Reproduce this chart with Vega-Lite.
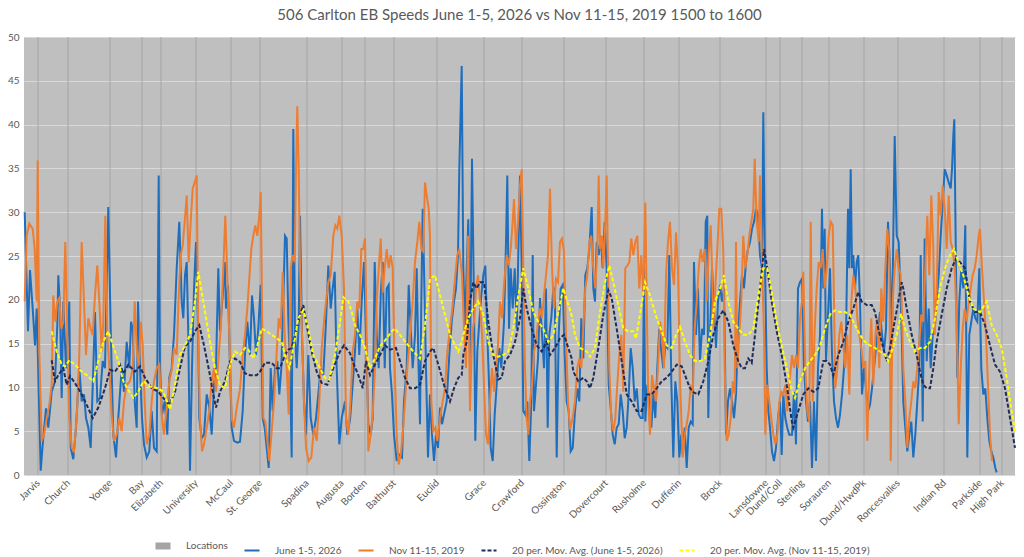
{
  "$schema": "https://vega.github.io/schema/vega-lite/v6.json",
  "width": 991,
  "height": 438,
  "autosize": {"type": "none"},
  "padding": {"left": 24, "top": 37, "right": 9, "bottom": 82},
  "title": {"text": "506 Carlton EB Speeds June 1-5, 2026 vs Nov 11-15, 2019 1500 to 1600", "fontSize": 15, "fontWeight": "normal", "color": "#595959", "font": "Lato", "offset": 9, "anchor": "middle", "frame": "group"},
  "config": {"view": {"fill": "#BFBFBF", "stroke": null}, "font": "Lato"},
  "datasets": {
    "loc": [
      {"loc": "Jarvis", "i": 14, "v": 50}, {"loc": "Church", "i": 44, "v": 50}, {"loc": "Yonge", "i": 86, "v": 50}, {"loc": "Bay", "i": 118, "v": 50}, {"loc": "Elizabeth", "i": 137, "v": 50}, {"loc": "University", "i": 172, "v": 50}, {"loc": "McCaul", "i": 207, "v": 50}, {"loc": "St. George", "i": 236, "v": 50}, {"loc": "Spadina", "i": 283, "v": 50}, {"loc": "Augusta", "i": 318, "v": 50}, {"loc": "Borden", "i": 341, "v": 50}, {"loc": "Bathurst", "i": 370, "v": 50}, {"loc": "Euclid", "i": 413, "v": 50}, {"loc": "Grace", "i": 460, "v": 50}, {"loc": "Crawford", "i": 498, "v": 50}, {"loc": "Ossington", "i": 540, "v": 50}, {"loc": "Dovercourt", "i": 582, "v": 50}, {"loc": "Rusholme", "i": 620, "v": 50}, {"loc": "Dufferin", "i": 655, "v": 50}, {"loc": "Brock", "i": 696, "v": 50}, {"loc": "Lansdowne", "i": 742, "v": 50}, {"loc": "Dund/Coll", "i": 756, "v": 50}, {"loc": "Sterling", "i": 778, "v": 50}, {"loc": "Sorauren", "i": 805, "v": 50}, {"loc": "Dund/HwdPk", "i": 840, "v": 50}, {"loc": "Roncesvalles", "i": 874, "v": 50}, {"loc": "Indian Rd", "i": 920, "v": 50}, {"loc": "Parkside", "i": 956, "v": 50}, {"loc": "High Park", "i": 978, "v": 50}
    ],
    "jun": [
      {"i":0.7,"v":30},{"i":4,"v":16.4},{"i":6,"v":23.4},{"i":8.7,"v":19},{"i":11,"v":14.8},{"i":12.7,"v":19},{"i":16.7,"v":0.5},{"i":18.7,"v":3.5},{"i":22,"v":7.6},{"i":24.3,"v":5.4},{"i":27.7,"v":9.5},{"i":31,"v":10.7},{"i":33.3,"v":17.1},{"i":34.3,"v":22.8},{"i":36,"v":19},{"i":37.7,"v":8.8},{"i":39.3,"v":19.8},{"i":42,"v":12.2},{"i":45.3,"v":19.8},{"i":46.7,"v":3.1},{"i":49.3,"v":1.8},{"i":52,"v":5.4},{"i":55.3,"v":12.2},{"i":57.7,"v":8.4},{"i":60,"v":9.2},{"i":62,"v":6.5},{"i":64.3,"v":5.4},{"i":66.7,"v":3.1},{"i":69.3,"v":12.2},{"i":71,"v":18.6},{"i":73.3,"v":8.4},{"i":76,"v":8.8},{"i":78.7,"v":13},{"i":81,"v":12.2},{"i":84.3,"v":30.6},{"i":86.7,"v":16.7},{"i":89.3,"v":4.6},{"i":92,"v":2},{"i":94.3,"v":6.5},{"i":97.7,"v":12.2},{"i":100,"v":9.5},{"i":102.7,"v":15.2},{"i":105.3,"v":12.2},{"i":107,"v":17.5},{"i":108.7,"v":16.7},{"i":110.7,"v":8.4},{"i":112.7,"v":5.4},{"i":114,"v":19.8},{"i":116,"v":12.2},{"i":118,"v":6.5},{"i":120,"v":3.5},{"i":122.7,"v":2},{"i":125.3,"v":2.7},{"i":127.7,"v":7.3},{"i":130,"v":3.1},{"i":132.7,"v":2.7},{"i":134.7,"v":34.2},{"i":136,"v":12.2},{"i":138,"v":6.9},{"i":140.7,"v":8.4},{"i":143.3,"v":4.6},{"i":145.3,"v":11.1},{"i":147.7,"v":12.2},{"i":150,"v":16},{"i":152.7,"v":23.6},{"i":155.3,"v":28.9},{"i":157.7,"v":19.8},{"i":159.3,"v":17.9},{"i":161,"v":22.8},{"i":162.7,"v":24.3},{"i":164.3,"v":16},{"i":166,"v":0.5},{"i":168,"v":12.2},{"i":170,"v":21.3},{"i":172,"v":26.6},{"i":174,"v":17.1},{"i":175.3,"v":6.5},{"i":177.7,"v":4.2},{"i":180,"v":4.6},{"i":182.7,"v":9.2},{"i":185.3,"v":7.7},{"i":187.7,"v":4.6},{"i":190,"v":10.3},{"i":192,"v":12.2},{"i":194.3,"v":23.6},{"i":196,"v":16.4},{"i":198.7,"v":20.5},{"i":200.7,"v":24.3},{"i":202,"v":19},{"i":204,"v":21.7},{"i":206,"v":12.2},{"i":207.7,"v":5.4},{"i":210,"v":3.9},{"i":213.3,"v":3.7},{"i":216,"v":3.8},{"i":218.7,"v":7.3},{"i":221,"v":13.7},{"i":223.3,"v":17.5},{"i":226,"v":13.7},{"i":228,"v":20.5},{"i":230,"v":17.9},{"i":232,"v":13.7},{"i":234.3,"v":16.7},{"i":236.7,"v":21.7},{"i":238.7,"v":6.5},{"i":240.7,"v":5.4},{"i":242.7,"v":3.1},{"i":244.7,"v":0.8},{"i":246.7,"v":12.2},{"i":248.7,"v":7.3},{"i":251,"v":12.2},{"i":253.3,"v":13},{"i":255.3,"v":9.2},{"i":257.3,"v":12.2},{"i":259.3,"v":19.8},{"i":261,"v":27.3},{"i":262.7,"v":27},{"i":264.3,"v":17.9},{"i":266,"v":12.2},{"i":267.7,"v":2},{"i":269.3,"v":39.5},{"i":271,"v":16},{"i":272.7,"v":12.2},{"i":274.7,"v":17.1},{"i":276,"v":29.6},{"i":278,"v":16},{"i":280,"v":8.4},{"i":282,"v":4.6},{"i":284.3,"v":13.7},{"i":286.7,"v":6.5},{"i":289.3,"v":4.6},{"i":292,"v":6.5},{"i":294.3,"v":9.2},{"i":296.7,"v":12.2},{"i":299.3,"v":11.4},{"i":302,"v":17.5},{"i":304.3,"v":23.9},{"i":306.7,"v":19},{"i":308.7,"v":21.3},{"i":310.7,"v":23.2},{"i":312.7,"v":12.2},{"i":315.3,"v":3.5},{"i":317.7,"v":6.5},{"i":321,"v":8.4},{"i":323.3,"v":4.6},{"i":326,"v":6.3},{"i":328.7,"v":10.3},{"i":331,"v":14.1},{"i":333.3,"v":19},{"i":335.3,"v":13.7},{"i":337.7,"v":19.8},{"i":340,"v":24.3},{"i":342,"v":16},{"i":344.3,"v":5.8},{"i":346.7,"v":4.6},{"i":348.7,"v":6.5},{"i":350.7,"v":24.3},{"i":352.7,"v":16},{"i":354.7,"v":12.2},{"i":356.7,"v":20.5},{"i":358.7,"v":24.3},{"i":360.7,"v":12.2},{"i":362.7,"v":21.3},{"i":364.7,"v":21.7},{"i":366,"v":12.2},{"i":368,"v":9.2},{"i":370,"v":4.6},{"i":372.7,"v":1.6},{"i":375.3,"v":2.3},{"i":378,"v":2},{"i":380,"v":8.4},{"i":382.7,"v":12.2},{"i":384.7,"v":21.7},{"i":386.7,"v":16.7},{"i":388.7,"v":12.2},{"i":391,"v":16},{"i":392.7,"v":23.6},{"i":394.3,"v":13.7},{"i":396,"v":5.8},{"i":397.3,"v":19.8},{"i":398.7,"v":30.4},{"i":400,"v":23.6},{"i":402,"v":12.2},{"i":404,"v":2},{"i":406,"v":9.2},{"i":408,"v":4.6},{"i":410,"v":1.6},{"i":412,"v":4.6},{"i":414,"v":3.1},{"i":416,"v":7.7},{"i":418,"v":5.8},{"i":420,"v":6.9},{"i":422.7,"v":8.4},{"i":425.3,"v":13.7},{"i":427.7,"v":17.5},{"i":430,"v":19.8},{"i":432,"v":21.3},{"i":434,"v":25.1},{"i":435.3,"v":34.9},{"i":437.7,"v":46.7},{"i":439.3,"v":23.6},{"i":441,"v":16.7},{"i":442.7,"v":23.6},{"i":444.3,"v":29.2},{"i":446,"v":12.2},{"i":448,"v":36.1},{"i":450,"v":19.8},{"i":451.3,"v":3.9},{"i":453.3,"v":14.1},{"i":455.3,"v":17.5},{"i":457.3,"v":20.5},{"i":459.3,"v":22.8},{"i":461.3,"v":23.9},{"i":463.3,"v":16},{"i":465.3,"v":9.5},{"i":466.7,"v":3.1},{"i":468.7,"v":1.6},{"i":470.7,"v":6.9},{"i":472.7,"v":10.3},{"i":475.3,"v":14.5},{"i":477.3,"v":12.2},{"i":480,"v":17.5},{"i":482,"v":26.6},{"i":483.3,"v":34.2},{"i":485,"v":16.7},{"i":486.7,"v":23.6},{"i":488.7,"v":19},{"i":490.7,"v":23.6},{"i":492.7,"v":16.7},{"i":494.7,"v":27.3},{"i":496,"v":34.2},{"i":497.7,"v":23.6},{"i":499.3,"v":7.3},{"i":501.3,"v":6.9},{"i":503.3,"v":8.4},{"i":505.3,"v":1.6},{"i":507.3,"v":8.4},{"i":508.7,"v":25.1},{"i":510,"v":7.3},{"i":512,"v":10.3},{"i":514,"v":13.3},{"i":516,"v":20.2},{"i":518,"v":16},{"i":520,"v":12.2},{"i":522,"v":21.3},{"i":523.7,"v":5.4},{"i":525.3,"v":16},{"i":527.3,"v":17.9},{"i":529.3,"v":21.3},{"i":530.7,"v":21.3},{"i":532.7,"v":2},{"i":534.7,"v":16},{"i":536.7,"v":21.3},{"i":538.7,"v":21.7},{"i":540.7,"v":13.7},{"i":542.7,"v":8.4},{"i":544.7,"v":7.3},{"i":546.7,"v":2.7},{"i":548.7,"v":3.1},{"i":551,"v":7.3},{"i":553.3,"v":9.9},{"i":555.3,"v":8.4},{"i":557.3,"v":17.9},{"i":559.3,"v":13.3},{"i":561.3,"v":22.8},{"i":563.3,"v":23.6},{"i":565.3,"v":25.8},{"i":567.7,"v":30.6},{"i":569.3,"v":21.3},{"i":571,"v":19.8},{"i":572.7,"v":26.6},{"i":574.7,"v":25.1},{"i":576.7,"v":27.3},{"i":578.7,"v":23.6},{"i":580.7,"v":28.9},{"i":582.7,"v":23.6},{"i":584.7,"v":10.3},{"i":586.7,"v":7.7},{"i":588.7,"v":4.6},{"i":590.7,"v":3.5},{"i":592.7,"v":5.4},{"i":594.7,"v":5.8},{"i":596.7,"v":9.2},{"i":598.7,"v":7.3},{"i":600.7,"v":4.2},{"i":602.7,"v":5.4},{"i":604.7,"v":9.2},{"i":606.7,"v":14.5},{"i":608.7,"v":12.2},{"i":610.7,"v":8.4},{"i":612.7,"v":9.9},{"i":614.7,"v":6.9},{"i":616.7,"v":6.5},{"i":618.7,"v":6.5},{"i":620,"v":23.6},{"i":621.3,"v":6.1},{"i":623.3,"v":10.3},{"i":625.3,"v":8.4},{"i":627.3,"v":5.4},{"i":629.3,"v":9.2},{"i":631.3,"v":6.5},{"i":633.3,"v":12.2},{"i":635.3,"v":16.7},{"i":637.3,"v":14.1},{"i":639.3,"v":12.2},{"i":641.3,"v":14.8},{"i":643.3,"v":14.5},{"i":645.3,"v":25.1},{"i":647.3,"v":10.7},{"i":649.3,"v":2},{"i":651.3,"v":10.7},{"i":653.3,"v":8.4},{"i":655.3,"v":2},{"i":657.3,"v":4.6},{"i":658.7,"v":2.3},{"i":660.7,"v":5.4},{"i":662.7,"v":0.8},{"i":664.7,"v":5.4},{"i":666.7,"v":6.1},{"i":668.7,"v":5.8},{"i":670,"v":24.3},{"i":672,"v":16},{"i":674,"v":21.3},{"i":676,"v":13},{"i":678,"v":16.7},{"i":680,"v":16},{"i":681.7,"v":28.9},{"i":683.3,"v":29.6},{"i":684.3,"v":6.5},{"i":686,"v":16},{"i":688,"v":23.6},{"i":690,"v":19},{"i":692,"v":14.5},{"i":694,"v":19.8},{"i":696,"v":21.7},{"i":698,"v":19.8},{"i":700,"v":21.3},{"i":702,"v":4.6},{"i":704,"v":8.4},{"i":706,"v":9.9},{"i":708,"v":8.4},{"i":710,"v":6.5},{"i":712,"v":9.2},{"i":714,"v":16},{"i":716,"v":19.8},{"i":718,"v":22.8},{"i":720,"v":21.3},{"i":722,"v":24.3},{"i":724,"v":25.8},{"i":726,"v":26.6},{"i":728,"v":28.1},{"i":730,"v":28.9},{"i":732,"v":30.4},{"i":734,"v":29.6},{"i":736,"v":25.1},{"i":738,"v":23.6},{"i":739.3,"v":41.4},{"i":741,"v":23.6},{"i":742.7,"v":12.2},{"i":744.3,"v":7.3},{"i":746,"v":5.4},{"i":748,"v":2.7},{"i":750,"v":1.6},{"i":752,"v":3.1},{"i":754,"v":6.5},{"i":756,"v":8.4},{"i":757.7,"v":2.3},{"i":759.3,"v":9.2},{"i":761.3,"v":6.5},{"i":763.3,"v":5.4},{"i":765.3,"v":4.6},{"i":768,"v":4.6},{"i":770,"v":9.5},{"i":772,"v":3.5},{"i":774,"v":21.3},{"i":776,"v":22},{"i":778,"v":22.4},{"i":780,"v":12.2},{"i":782,"v":8.4},{"i":784,"v":6.1},{"i":786,"v":8.4},{"i":788,"v":0.8},{"i":790,"v":8.4},{"i":792,"v":1.6},{"i":794,"v":12.2},{"i":796,"v":16},{"i":798,"v":30.4},{"i":799.3,"v":21.3},{"i":800.7,"v":28.1},{"i":802,"v":13},{"i":804,"v":18.3},{"i":806,"v":23.6},{"i":808,"v":13.7},{"i":810,"v":8.4},{"i":812,"v":6.5},{"i":814,"v":5.4},{"i":816,"v":6.9},{"i":818,"v":9.2},{"i":820,"v":12.2},{"i":822,"v":16},{"i":824,"v":30.4},{"i":825.3,"v":23.6},{"i":826.7,"v":34.9},{"i":828,"v":23.6},{"i":829.3,"v":25.1},{"i":831,"v":21.3},{"i":832.7,"v":24.3},{"i":834.3,"v":25.1},{"i":836,"v":19.8},{"i":838,"v":9.2},{"i":840,"v":12.2},{"i":842,"v":9.9},{"i":844,"v":7.3},{"i":846,"v":8},{"i":848,"v":9.9},{"i":850,"v":12.2},{"i":852,"v":14.5},{"i":854,"v":16.7},{"i":856,"v":18.6},{"i":858,"v":16},{"i":860,"v":14.1},{"i":862,"v":16.7},{"i":864,"v":28.9},{"i":866,"v":23.6},{"i":868,"v":16},{"i":869.3,"v":27.3},{"i":870.7,"v":38.7},{"i":872.7,"v":27.3},{"i":874.7,"v":26.6},{"i":876.7,"v":20},{"i":877.7,"v":16},{"i":879.3,"v":8.4},{"i":881.3,"v":5.4},{"i":883.3,"v":2.7},{"i":885.3,"v":4.6},{"i":887.3,"v":6.1},{"i":889.3,"v":2},{"i":891.3,"v":4.6},{"i":893.3,"v":8.4},{"i":895.3,"v":12.2},{"i":896.7,"v":25.1},{"i":898.7,"v":6.1},{"i":900.7,"v":27},{"i":902.7,"v":13},{"i":904.7,"v":19},{"i":906.7,"v":12.2},{"i":908.7,"v":16},{"i":910.7,"v":16.7},{"i":912.7,"v":19.8},{"i":914.7,"v":22.8},{"i":916.7,"v":27.3},{"i":918.7,"v":31.1},{"i":920.7,"v":34.9},{"i":922.7,"v":34.2},{"i":924.7,"v":33.4},{"i":926.7,"v":32.7},{"i":928,"v":34.9},{"i":929.3,"v":38.7},{"i":930.3,"v":40.6},{"i":932,"v":23.6},{"i":933.3,"v":11.1},{"i":935.3,"v":19.8},{"i":937.3,"v":23.6},{"i":939.3,"v":21.3},{"i":941.3,"v":28.5},{"i":943.3,"v":2},{"i":945.3,"v":16},{"i":947.3,"v":17.5},{"i":949.3,"v":19},{"i":951.3,"v":17.9},{"i":953.3,"v":17.5},{"i":955.3,"v":23.6},{"i":957.3,"v":12.2},{"i":959.3,"v":9.2},{"i":961.3,"v":9.9},{"i":963.3,"v":6.5},{"i":965.3,"v":3.9},{"i":967.3,"v":2.7},{"i":969.3,"v":2},{"i":971.3,"v":0.8},{"i":972.7,"v":0.3}
    ],
    "nov": [
      {"i":0.7,"v":19.8},{"i":2.7,"v":27.3},{"i":5.3,"v":28.7},{"i":8.7,"v":28.1},{"i":10.7,"v":25.8},{"i":12.7,"v":19.8},{"i":13.7,"v":35.9},{"i":15.3,"v":14},{"i":17.7,"v":3.9},{"i":20,"v":4.6},{"i":22.7,"v":6.5},{"i":25.3,"v":8},{"i":27.7,"v":10.3},{"i":29.3,"v":20.5},{"i":31.3,"v":17.5},{"i":33.3,"v":19.8},{"i":35.3,"v":20.2},{"i":37.3,"v":16.7},{"i":39.3,"v":17.5},{"i":41.3,"v":26.6},{"i":43.3,"v":16},{"i":45.3,"v":6.5},{"i":47.7,"v":3.1},{"i":50,"v":2.7},{"i":52.7,"v":6.5},{"i":55.3,"v":13.7},{"i":57.7,"v":26.6},{"i":60,"v":19.8},{"i":62,"v":13.7},{"i":64.3,"v":17.9},{"i":66.7,"v":16.7},{"i":68.7,"v":16},{"i":71,"v":20.5},{"i":73.3,"v":23.9},{"i":75.3,"v":19.8},{"i":77.7,"v":14.1},{"i":79.3,"v":17.5},{"i":81.3,"v":29.6},{"i":83.3,"v":16},{"i":85.3,"v":12.2},{"i":87.7,"v":6.9},{"i":90,"v":3.9},{"i":92.7,"v":4.6},{"i":95.3,"v":6.5},{"i":97.7,"v":5},{"i":100,"v":8.4},{"i":102.7,"v":10.3},{"i":106,"v":10.7},{"i":108.7,"v":12.2},{"i":110.7,"v":19.8},{"i":112.7,"v":14.5},{"i":114.7,"v":12.2},{"i":116.7,"v":17.5},{"i":118.7,"v":14.8},{"i":120.7,"v":8.4},{"i":122.7,"v":3.5},{"i":125.3,"v":4.6},{"i":127.7,"v":8.4},{"i":130,"v":10.7},{"i":132.7,"v":12.2},{"i":135.3,"v":12.6},{"i":137.7,"v":6.9},{"i":140,"v":4.6},{"i":142.7,"v":7.7},{"i":145.3,"v":10.7},{"i":148,"v":12.2},{"i":150,"v":14.5},{"i":152.7,"v":13.7},{"i":154.7,"v":20.5},{"i":156.7,"v":25.1},{"i":158.7,"v":26.2},{"i":160.7,"v":28.9},{"i":162.7,"v":31.9},{"i":164.7,"v":24.3},{"i":166.7,"v":28.9},{"i":168.7,"v":32.7},{"i":170.7,"v":33.4},{"i":172.7,"v":34.2},{"i":174.3,"v":16},{"i":176,"v":6.5},{"i":178,"v":2.7},{"i":180,"v":3.5},{"i":182.7,"v":5.4},{"i":185.3,"v":7.3},{"i":187.7,"v":10.7},{"i":190,"v":12.2},{"i":192,"v":9.5},{"i":194.3,"v":13},{"i":196.7,"v":16.7},{"i":199.3,"v":23.6},{"i":201.3,"v":29.6},{"i":203.3,"v":22.8},{"i":205.3,"v":16},{"i":207.7,"v":6.5},{"i":210,"v":5.4},{"i":212.7,"v":7.7},{"i":216,"v":9.8},{"i":218.7,"v":13.7},{"i":221,"v":16},{"i":223.3,"v":19},{"i":225.3,"v":22.4},{"i":227.3,"v":25.8},{"i":229.3,"v":27.3},{"i":231.3,"v":28.5},{"i":233.3,"v":27.3},{"i":235.3,"v":29.6},{"i":236.7,"v":32.3},{"i":238,"v":19.8},{"i":239.3,"v":6.5},{"i":241.3,"v":6.1},{"i":243.3,"v":3.9},{"i":245.3,"v":1.6},{"i":247.7,"v":5},{"i":250,"v":8.4},{"i":252.7,"v":14.1},{"i":254.7,"v":17.9},{"i":256.7,"v":16.7},{"i":258.7,"v":23.2},{"i":260.7,"v":16},{"i":262.7,"v":12.2},{"i":264.7,"v":6.9},{"i":266.7,"v":23.6},{"i":268.7,"v":25.1},{"i":270.7,"v":24.3},{"i":272,"v":34.9},{"i":273.3,"v":42.1},{"i":274.7,"v":34.9},{"i":276,"v":23.6},{"i":278,"v":16},{"i":280,"v":8.4},{"i":282,"v":3.1},{"i":284.7,"v":1.6},{"i":287.3,"v":2},{"i":290,"v":5.4},{"i":292.7,"v":3.9},{"i":295.3,"v":8.4},{"i":297.7,"v":14.5},{"i":300,"v":17.5},{"i":302,"v":19.8},{"i":304.3,"v":22},{"i":306.7,"v":22.8},{"i":309.3,"v":27.3},{"i":311.3,"v":28.5},{"i":313.3,"v":28.1},{"i":315.3,"v":29.6},{"i":317.7,"v":27.3},{"i":320,"v":21.3},{"i":322,"v":6.5},{"i":324.3,"v":4.6},{"i":326.5,"v":8.4},{"i":328.7,"v":14.1},{"i":331,"v":16},{"i":333.3,"v":19.8},{"i":335.3,"v":19},{"i":337.3,"v":25.8},{"i":339.3,"v":25.8},{"i":341,"v":27},{"i":342.7,"v":16},{"i":344.3,"v":2.7},{"i":346.7,"v":4.6},{"i":348.7,"v":6.9},{"i":350.7,"v":11.4},{"i":352.7,"v":19.8},{"i":354.7,"v":23.6},{"i":356.7,"v":27},{"i":358.7,"v":20.8},{"i":360.7,"v":23.6},{"i":362.7,"v":25.8},{"i":364.7,"v":23.6},{"i":366.7,"v":25.1},{"i":368.7,"v":23.6},{"i":370.7,"v":12.2},{"i":372.7,"v":4.6},{"i":374.7,"v":1.2},{"i":376.7,"v":2.3},{"i":378.7,"v":4.6},{"i":381,"v":8.4},{"i":383.3,"v":12.2},{"i":386,"v":16},{"i":388.7,"v":19.8},{"i":391,"v":24.3},{"i":393.3,"v":26.6},{"i":395.3,"v":28.9},{"i":397.3,"v":25.8},{"i":399.3,"v":25.5},{"i":401,"v":33.4},{"i":402.7,"v":31.9},{"i":404.7,"v":30.4},{"i":406,"v":27.3},{"i":407.3,"v":8.4},{"i":409.3,"v":5},{"i":411.3,"v":5.4},{"i":413.3,"v":3.9},{"i":416,"v":6.5},{"i":418.7,"v":8.4},{"i":421,"v":9.9},{"i":423.3,"v":14.1},{"i":426,"v":16.7},{"i":428.7,"v":19.4},{"i":431.3,"v":22.8},{"i":433.3,"v":25.1},{"i":435.3,"v":25.8},{"i":438,"v":22.8},{"i":440,"v":16.7},{"i":442,"v":12.2},{"i":444,"v":27.3},{"i":446,"v":7.3},{"i":448,"v":16},{"i":450,"v":17.5},{"i":452,"v":21.3},{"i":454,"v":22.8},{"i":456,"v":19.8},{"i":458,"v":16},{"i":460,"v":10.3},{"i":462,"v":4.6},{"i":464,"v":3.5},{"i":466,"v":8.4},{"i":468,"v":12.2},{"i":470,"v":9.5},{"i":472,"v":12.2},{"i":474,"v":14.8},{"i":476,"v":19.8},{"i":478,"v":17.9},{"i":480,"v":21.7},{"i":482.7,"v":25.1},{"i":484.7,"v":23.9},{"i":486.7,"v":25.8},{"i":488.7,"v":28.9},{"i":490,"v":31.5},{"i":492,"v":25.8},{"i":494,"v":28.9},{"i":496,"v":33},{"i":497.7,"v":34.9},{"i":499.3,"v":23.6},{"i":501,"v":12.2},{"i":502.7,"v":6.5},{"i":504.3,"v":4.6},{"i":506,"v":8.4},{"i":508,"v":10.3},{"i":510,"v":14.1},{"i":512,"v":15.2},{"i":514,"v":17.5},{"i":516,"v":19},{"i":518,"v":17.9},{"i":520,"v":20.5},{"i":522,"v":22.8},{"i":524,"v":25.1},{"i":526,"v":32.7},{"i":528,"v":23.6},{"i":530,"v":19},{"i":532,"v":22.4},{"i":534,"v":22},{"i":536,"v":26.6},{"i":538,"v":27},{"i":540,"v":25.5},{"i":542,"v":16},{"i":544,"v":8.4},{"i":546,"v":5.2},{"i":548.7,"v":6.5},{"i":551,"v":8.4},{"i":553.3,"v":12.2},{"i":555.3,"v":13.3},{"i":557.3,"v":12.2},{"i":559.3,"v":16.7},{"i":561.3,"v":21.3},{"i":563.3,"v":22.8},{"i":565.3,"v":26.6},{"i":567.3,"v":27.3},{"i":569.3,"v":23.6},{"i":571.3,"v":21.3},{"i":573.3,"v":25.8},{"i":574.7,"v":34.2},{"i":576,"v":25.8},{"i":578,"v":27.3},{"i":579.3,"v":23.6},{"i":581.3,"v":28.9},{"i":582.7,"v":34.2},{"i":584,"v":23.6},{"i":585.3,"v":12.2},{"i":587.3,"v":6.5},{"i":589.3,"v":5},{"i":591.3,"v":6.5},{"i":593.3,"v":10.3},{"i":595.3,"v":13.7},{"i":597.3,"v":16},{"i":599.3,"v":9.5},{"i":601.3,"v":23.6},{"i":603.3,"v":23.9},{"i":605.3,"v":24.3},{"i":607.3,"v":27},{"i":609.3,"v":25.1},{"i":611.3,"v":26.6},{"i":613.3,"v":27.3},{"i":615.3,"v":21.3},{"i":617.3,"v":25.1},{"i":619.3,"v":20.5},{"i":621.3,"v":31.1},{"i":622.7,"v":19.8},{"i":624.3,"v":8.4},{"i":626,"v":4.6},{"i":628,"v":11.4},{"i":630,"v":9.9},{"i":632,"v":8.4},{"i":634,"v":12.2},{"i":636,"v":17.5},{"i":638,"v":16},{"i":640,"v":12.2},{"i":642,"v":22.8},{"i":644,"v":26.6},{"i":646,"v":28.9},{"i":648,"v":23.6},{"i":650,"v":21.7},{"i":652,"v":27.7},{"i":654,"v":23.6},{"i":656,"v":11},{"i":658.7,"v":2},{"i":660.7,"v":4.6},{"i":662.7,"v":5.8},{"i":664.7,"v":7.3},{"i":666.7,"v":10.3},{"i":668.7,"v":9.2},{"i":670.7,"v":16.7},{"i":672.7,"v":19.8},{"i":674.7,"v":23.6},{"i":676.7,"v":25.8},{"i":678.7,"v":24.3},{"i":680.7,"v":25.8},{"i":682.7,"v":19.8},{"i":684.7,"v":25.5},{"i":686.7,"v":28.5},{"i":688,"v":23.6},{"i":689.3,"v":16.7},{"i":691.3,"v":21.3},{"i":693.3,"v":25.8},{"i":695.3,"v":30.4},{"i":697.3,"v":30.4},{"i":699.3,"v":25.5},{"i":700.7,"v":12.2},{"i":702.7,"v":3.9},{"i":704.7,"v":4.6},{"i":706.7,"v":6.5},{"i":708.7,"v":10.7},{"i":710.7,"v":9.2},{"i":712,"v":26.6},{"i":713.3,"v":12.2},{"i":715.3,"v":16},{"i":717.3,"v":19.8},{"i":719.3,"v":27.3},{"i":721.3,"v":23.6},{"i":723.3,"v":25.1},{"i":725.3,"v":27.3},{"i":727.3,"v":28.9},{"i":729.3,"v":30.4},{"i":730.7,"v":36.1},{"i":732.7,"v":28.9},{"i":734.7,"v":26.6},{"i":736,"v":34.2},{"i":738,"v":24.3},{"i":740,"v":16},{"i":741.3,"v":4.6},{"i":743.3,"v":10.3},{"i":745.3,"v":8.4},{"i":747.3,"v":6.5},{"i":749.3,"v":4.6},{"i":751.3,"v":3.5},{"i":753.3,"v":4.6},{"i":755.3,"v":8.4},{"i":757.3,"v":9.5},{"i":759.3,"v":9.2},{"i":761.3,"v":10.3},{"i":763.3,"v":7.3},{"i":765.3,"v":10.3},{"i":768,"v":13.7},{"i":770,"v":12.2},{"i":772,"v":13.7},{"i":774,"v":12.2},{"i":776,"v":17.9},{"i":778,"v":19.8},{"i":779.3,"v":23.2},{"i":781.3,"v":12.2},{"i":783.3,"v":7.3},{"i":785.3,"v":6.1},{"i":786.7,"v":28.9},{"i":788.7,"v":8.4},{"i":790.7,"v":16.7},{"i":792.7,"v":21.3},{"i":794.7,"v":24.3},{"i":796.7,"v":23.6},{"i":798.7,"v":25.8},{"i":800.7,"v":21.3},{"i":802.7,"v":23.6},{"i":804.7,"v":27.3},{"i":806.7,"v":28.9},{"i":808.7,"v":28.5},{"i":810,"v":19.8},{"i":811.3,"v":9.9},{"i":813.3,"v":12.2},{"i":815.3,"v":16},{"i":817.3,"v":17.5},{"i":819.3,"v":14.8},{"i":821.3,"v":12.2},{"i":823.3,"v":16},{"i":825.3,"v":9.2},{"i":827.3,"v":19.8},{"i":829.3,"v":22.8},{"i":831.3,"v":21.3},{"i":833.3,"v":17.9},{"i":835.3,"v":16},{"i":837.3,"v":14.5},{"i":839.3,"v":12.2},{"i":841.3,"v":13},{"i":843.3,"v":3.9},{"i":845.3,"v":12.2},{"i":847.3,"v":17.9},{"i":849.3,"v":10.3},{"i":851.3,"v":16},{"i":853.3,"v":17.9},{"i":855.3,"v":12.2},{"i":857.3,"v":21.3},{"i":859.3,"v":17.5},{"i":861.3,"v":23.6},{"i":863.3,"v":28.1},{"i":865.3,"v":25.5},{"i":866.7,"v":1.6},{"i":868.7,"v":19.8},{"i":870.7,"v":23.6},{"i":872.7,"v":25.8},{"i":874.7,"v":23.6},{"i":876.5,"v":23},{"i":877.7,"v":19.8},{"i":879.3,"v":12.2},{"i":881.3,"v":8.4},{"i":883.3,"v":3.1},{"i":885.3,"v":6.5},{"i":887.3,"v":8.4},{"i":889.3,"v":10.7},{"i":891.3,"v":9.9},{"i":893.3,"v":12.2},{"i":895.3,"v":15.2},{"i":897.3,"v":18.3},{"i":899.3,"v":17.5},{"i":901.3,"v":23.6},{"i":903.3,"v":29.6},{"i":905.3,"v":22.8},{"i":907.3,"v":31.9},{"i":909.3,"v":25.8},{"i":910.7,"v":16},{"i":912.7,"v":21.3},{"i":914.7,"v":32.3},{"i":916.7,"v":29.6},{"i":918.7,"v":33},{"i":920.7,"v":30.4},{"i":922.7,"v":25.8},{"i":924.7,"v":31.9},{"i":926.7,"v":26.6},{"i":928.7,"v":25.8},{"i":930.7,"v":23.6},{"i":932.7,"v":17.5},{"i":934.7,"v":5.8},{"i":936.7,"v":12.2},{"i":938.7,"v":16.7},{"i":940.7,"v":19},{"i":942.7,"v":17.5},{"i":944.7,"v":19.8},{"i":946.7,"v":21.3},{"i":948.7,"v":22.8},{"i":950.7,"v":23.6},{"i":952.7,"v":25.1},{"i":954.7,"v":27.3},{"i":956,"v":28.1},{"i":958,"v":23.6},{"i":960,"v":19.8},{"i":962,"v":16},{"i":964,"v":10.3},{"i":966,"v":4.6},{"i":968,"v":1.6}
    ],
    "mavJun": [
      {"i":27.7,"v":13.1},{"i":31,"v":10.7},{"i":34.3,"v":11.4},{"i":39.3,"v":12.2},{"i":42.7,"v":10.3},{"i":46,"v":11.3},{"i":51,"v":10.5},{"i":57.7,"v":9.2},{"i":62.7,"v":8},{"i":68.7,"v":6.5},{"i":74.3,"v":7.7},{"i":81,"v":9.9},{"i":86,"v":12},{"i":91,"v":11.8},{"i":96,"v":12.6},{"i":99.3,"v":11.6},{"i":104.3,"v":12.6},{"i":111,"v":11.8},{"i":116,"v":12.4},{"i":121,"v":11.1},{"i":127.7,"v":9.9},{"i":134.3,"v":9.5},{"i":139.3,"v":8.8},{"i":145.3,"v":8},{"i":151,"v":9.5},{"i":156,"v":12.2},{"i":161,"v":14.7},{"i":166,"v":15.2},{"i":171,"v":16.4},{"i":175.3,"v":17.1},{"i":180,"v":14.8},{"i":185.3,"v":11.8},{"i":189.3,"v":9.2},{"i":192,"v":7.7},{"i":196,"v":9.5},{"i":201,"v":10.7},{"i":206,"v":13},{"i":211,"v":13.3},{"i":216,"v":12.9},{"i":221,"v":11.6},{"i":226,"v":11.4},{"i":232.7,"v":11.4},{"i":236,"v":11.8},{"i":241,"v":12.8},{"i":247.7,"v":12.8},{"i":252.7,"v":12.2},{"i":256,"v":12.2},{"i":261,"v":13.7},{"i":264.3,"v":14.3},{"i":267.7,"v":14.5},{"i":271,"v":16},{"i":276,"v":18.3},{"i":279.3,"v":19.4},{"i":282.7,"v":17.1},{"i":287.7,"v":14.1},{"i":292.7,"v":11.8},{"i":297.7,"v":10.5},{"i":303.3,"v":10.3},{"i":309.3,"v":12.2},{"i":316,"v":14.1},{"i":320,"v":14.8},{"i":326,"v":13.9},{"i":330,"v":12.6},{"i":334.3,"v":11.4},{"i":338.7,"v":9.9},{"i":342,"v":13},{"i":346,"v":11.4},{"i":351,"v":12.6},{"i":356,"v":13.7},{"i":361,"v":14.8},{"i":366,"v":14.3},{"i":372,"v":14.5},{"i":376,"v":13},{"i":381,"v":11.1},{"i":386,"v":9.9},{"i":391,"v":9.9},{"i":396,"v":10.3},{"i":401,"v":13},{"i":406,"v":14.1},{"i":409.3,"v":14.5},{"i":414.3,"v":12.6},{"i":421,"v":9.9},{"i":426,"v":8.4},{"i":430,"v":9.9},{"i":434.3,"v":11.1},{"i":437.7,"v":11.4},{"i":439.3,"v":13.7},{"i":442.7,"v":15.2},{"i":446,"v":19.8},{"i":449.3,"v":22},{"i":452.7,"v":21.3},{"i":456,"v":22},{"i":460,"v":22},{"i":464.3,"v":17.5},{"i":469.3,"v":13.7},{"i":474.3,"v":10.9},{"i":477.7,"v":11.1},{"i":481,"v":13},{"i":486,"v":13.7},{"i":491,"v":15.2},{"i":496,"v":17.9},{"i":499.3,"v":21.3},{"i":502.7,"v":19},{"i":507.7,"v":16.7},{"i":512.7,"v":14.8},{"i":517.7,"v":14.1},{"i":522.7,"v":15.2},{"i":526,"v":13.7},{"i":531,"v":14.5},{"i":536,"v":15.6},{"i":540,"v":16},{"i":544.3,"v":14.5},{"i":547.7,"v":13.3},{"i":549.3,"v":11.8},{"i":554.3,"v":10.7},{"i":559.3,"v":11.1},{"i":562.7,"v":10.7},{"i":566,"v":9.9},{"i":569.3,"v":11.1},{"i":574.3,"v":14.5},{"i":579.3,"v":18.3},{"i":584.3,"v":21.1},{"i":587.7,"v":20.2},{"i":592.7,"v":16.7},{"i":597.7,"v":13},{"i":602.7,"v":9.2},{"i":607.7,"v":8.4},{"i":612.7,"v":7.3},{"i":617.7,"v":7.3},{"i":622.7,"v":9.2},{"i":627.7,"v":9.2},{"i":632.7,"v":9.9},{"i":637.7,"v":10.7},{"i":642.7,"v":11.1},{"i":647.7,"v":11.8},{"i":652.7,"v":12.6},{"i":657.7,"v":12.4},{"i":661,"v":11.4},{"i":666,"v":9.9},{"i":670,"v":9.4},{"i":674.3,"v":9.2},{"i":679.3,"v":10.7},{"i":684.3,"v":13},{"i":689.3,"v":16},{"i":694.3,"v":17.9},{"i":699.3,"v":18.8},{"i":704.3,"v":17.5},{"i":709.3,"v":14.8},{"i":714.3,"v":13},{"i":717.7,"v":12.2},{"i":721,"v":12.2},{"i":724.3,"v":13.3},{"i":727.7,"v":12.8},{"i":731,"v":16},{"i":736,"v":21.3},{"i":740,"v":25.8},{"i":743.3,"v":23.6},{"i":747.7,"v":19.8},{"i":752.7,"v":16.4},{"i":757.7,"v":13.7},{"i":762.7,"v":10.3},{"i":767.7,"v":6.2},{"i":769.3,"v":5.4},{"i":774.3,"v":7.3},{"i":779.3,"v":9.2},{"i":784.3,"v":9.9},{"i":789.3,"v":9.5},{"i":794.3,"v":9.9},{"i":799.3,"v":13},{"i":802.7,"v":13},{"i":806,"v":12.6},{"i":809.3,"v":11.4},{"i":814.3,"v":13.7},{"i":819.3,"v":15.2},{"i":824.3,"v":17.5},{"i":829.3,"v":19},{"i":834.3,"v":20.9},{"i":837.7,"v":19.8},{"i":842.7,"v":19.4},{"i":847.7,"v":19.4},{"i":851,"v":18.6},{"i":854.3,"v":16.7},{"i":859.3,"v":14.5},{"i":862.7,"v":13},{"i":866,"v":14.5},{"i":870,"v":17.1},{"i":874.3,"v":19.8},{"i":877.7,"v":22},{"i":879.3,"v":21.3},{"i":882.7,"v":19},{"i":887.7,"v":16},{"i":892.7,"v":13.7},{"i":896,"v":11.8},{"i":899.3,"v":10.3},{"i":902.7,"v":9.9},{"i":906,"v":9.9},{"i":909.3,"v":12.2},{"i":912.7,"v":15.2},{"i":917.7,"v":18.3},{"i":922.7,"v":21.3},{"i":927.7,"v":23.6},{"i":932,"v":24.7},{"i":936,"v":24.3},{"i":941,"v":23.6},{"i":946,"v":19.8},{"i":951,"v":18.6},{"i":956,"v":18.6},{"i":961,"v":17.1},{"i":966,"v":14.8},{"i":971,"v":12.6},{"i":976,"v":11.8},{"i":981,"v":9.9},{"i":986,"v":6.5},{"i":991,"v":3.1}
    ],
    "mavNov": [
      {"i":27.7,"v":16.4},{"i":32.7,"v":14.1},{"i":37.7,"v":12.6},{"i":41,"v":12.4},{"i":45.3,"v":13.1},{"i":51,"v":12.6},{"i":57.7,"v":11.8},{"i":62.7,"v":11.4},{"i":69.3,"v":10.7},{"i":73.3,"v":12.6},{"i":79.3,"v":15.2},{"i":84.3,"v":16.4},{"i":89.3,"v":14.7},{"i":94.3,"v":13},{"i":99.3,"v":10.7},{"i":104.3,"v":9.7},{"i":109.3,"v":8.8},{"i":114.3,"v":9.5},{"i":119.3,"v":10.7},{"i":126,"v":10.1},{"i":134.3,"v":9.9},{"i":139.3,"v":9.5},{"i":146,"v":7.5},{"i":151,"v":10.3},{"i":156,"v":13.7},{"i":161,"v":14.8},{"i":166,"v":16},{"i":171,"v":19.8},{"i":174.3,"v":23.2},{"i":179.3,"v":19.8},{"i":186,"v":15.2},{"i":191,"v":12.2},{"i":196,"v":10.3},{"i":201,"v":9.9},{"i":206,"v":12.6},{"i":211,"v":14.1},{"i":216,"v":13.7},{"i":221,"v":14.5},{"i":224.3,"v":14.3},{"i":229.3,"v":13.3},{"i":232.7,"v":14.5},{"i":237.7,"v":16.7},{"i":242.7,"v":16.4},{"i":247.7,"v":16},{"i":252.7,"v":15.6},{"i":257.7,"v":15.2},{"i":261,"v":13.7},{"i":265.3,"v":12.2},{"i":269.3,"v":14.5},{"i":274.3,"v":17.9},{"i":279.3,"v":18.8},{"i":284.3,"v":16.7},{"i":289.3,"v":13.7},{"i":296,"v":12.2},{"i":301,"v":11.1},{"i":305.3,"v":10.9},{"i":311,"v":13.7},{"i":316,"v":17.5},{"i":319.3,"v":20.3},{"i":324.3,"v":19.8},{"i":327.7,"v":18.6},{"i":331,"v":17.1},{"i":336,"v":16},{"i":341,"v":14.5},{"i":346,"v":12.2},{"i":351,"v":13.3},{"i":356,"v":14.7},{"i":362.7,"v":15.6},{"i":367.7,"v":16.4},{"i":371,"v":16.7},{"i":376,"v":16},{"i":382.7,"v":15},{"i":389.3,"v":14.1},{"i":396,"v":13.3},{"i":401,"v":17.1},{"i":406,"v":22.4},{"i":411,"v":22.8},{"i":416,"v":20.5},{"i":421,"v":18.3},{"i":426,"v":16},{"i":431,"v":14.8},{"i":434.3,"v":14.1},{"i":437.7,"v":15.2},{"i":439.3,"v":16},{"i":444.3,"v":17.9},{"i":449.3,"v":19},{"i":454.3,"v":19.8},{"i":459.3,"v":18.3},{"i":464.3,"v":15.2},{"i":469.3,"v":13.7},{"i":474.3,"v":13.5},{"i":479.3,"v":13.7},{"i":484.3,"v":14.1},{"i":489.3,"v":16.7},{"i":494.3,"v":20.5},{"i":499.3,"v":23.6},{"i":504.3,"v":21.3},{"i":509.3,"v":18.6},{"i":514.3,"v":17.5},{"i":519.3,"v":16.7},{"i":524.3,"v":15.2},{"i":529.3,"v":16},{"i":534.3,"v":18.6},{"i":539.3,"v":21.3},{"i":543.3,"v":19.8},{"i":547.7,"v":18.2},{"i":551,"v":16},{"i":556,"v":14.5},{"i":562.7,"v":14.1},{"i":566,"v":13.5},{"i":571,"v":14.5},{"i":576,"v":18.6},{"i":581,"v":22},{"i":585.3,"v":23.9},{"i":589.3,"v":22},{"i":594.3,"v":19.4},{"i":599.3,"v":16.7},{"i":604.3,"v":16.4},{"i":609.3,"v":16.4},{"i":612,"v":15.6},{"i":616,"v":18.3},{"i":621,"v":22},{"i":626,"v":20.5},{"i":632.7,"v":17.9},{"i":637.7,"v":16.4},{"i":642.7,"v":14.8},{"i":647.7,"v":14.5},{"i":652,"v":16},{"i":656,"v":16.9},{"i":661,"v":15.2},{"i":666,"v":13.7},{"i":671,"v":13},{"i":676,"v":13},{"i":681,"v":13.3},{"i":686,"v":16},{"i":691,"v":19.8},{"i":696,"v":21.3},{"i":700,"v":22.8},{"i":704.3,"v":19.8},{"i":709.3,"v":17.5},{"i":714.3,"v":16.7},{"i":719.3,"v":16},{"i":724.3,"v":16},{"i":729.3,"v":16.7},{"i":734.3,"v":20.5},{"i":739.3,"v":23.6},{"i":743.3,"v":23.6},{"i":747.7,"v":20.9},{"i":752.7,"v":17.5},{"i":757.7,"v":14.8},{"i":762.7,"v":12.2},{"i":767.7,"v":9.7},{"i":771,"v":8.8},{"i":776,"v":10.7},{"i":781,"v":12.2},{"i":786,"v":13},{"i":791,"v":13.7},{"i":796,"v":14.8},{"i":801,"v":16.7},{"i":806,"v":18.3},{"i":811,"v":18.8},{"i":816,"v":18.6},{"i":821,"v":18.6},{"i":826,"v":18.3},{"i":831,"v":17.1},{"i":836,"v":16},{"i":841,"v":15.2},{"i":846,"v":14.8},{"i":851,"v":14.5},{"i":856,"v":14.1},{"i":861,"v":13.7},{"i":864.3,"v":13},{"i":867.7,"v":14.1},{"i":872.7,"v":16},{"i":877,"v":18.4},{"i":881,"v":16.7},{"i":886,"v":15.2},{"i":891,"v":14.1},{"i":896,"v":14.5},{"i":901,"v":14.5},{"i":906,"v":15.2},{"i":911,"v":17.9},{"i":916,"v":21.3},{"i":921,"v":23.6},{"i":926,"v":25.1},{"i":930,"v":25.8},{"i":934.3,"v":24.3},{"i":939.3,"v":22.8},{"i":944.3,"v":20.5},{"i":949.3,"v":19},{"i":956,"v":18.6},{"i":962.7,"v":19.8},{"i":967.7,"v":17.1},{"i":972.7,"v":16},{"i":977.7,"v":14.5},{"i":982.7,"v":11.1},{"i":987.7,"v":7.3},{"i":991,"v":5}
    ]
  },
  "encoding": {
    "x": {
      "field": "i", "type": "quantitative",
      "scale": {"domain": [0, 991], "nice": false, "zero": false},
      "axis": {
        "title": null, "grid": false, "domain": false, "ticks": false,
        "values": [14,44,86,118,137,172,207,236,283,318,341,370,413,460,498,540,582,620,655,696,742,756,778,805,840,874,920,956,978],
        "labelExpr": "['Jarvis','Church','Yonge','Bay','Elizabeth','University','McCaul','St. George','Spadina','Augusta','Borden','Bathurst','Euclid','Grace','Crawford','Ossington','Dovercourt','Rusholme','Dufferin','Brock','Lansdowne','Dund/Coll','Sterling','Sorauren','Dund/HwdPk','Roncesvalles','Indian Rd','Parkside','High Park'][indexof([14,44,86,118,137,172,207,236,283,318,341,370,413,460,498,540,582,620,655,696,742,756,778,805,840,874,920,956,978], datum.value)]",
        "labelAngle": -45, "labelAlign": "right", "labelBaseline": "middle", "labelPadding": 6,
        "labelOverlap": false, "labelBound": false, "labelFlush": false,
        "labelFontSize": 10, "labelColor": "#595959", "labelFont": "Lato"
      }
    },
    "y": {
      "field": "v", "type": "quantitative",
      "scale": {"domain": [0, 50], "nice": false},
      "axis": {
        "title": null, "domain": false, "ticks": false, "grid": true,
        "gridColor": "#D9D9D9", "gridWidth": 1,
        "values": [0,5,10,15,20,25,30,35,40,45,50],
        "labelColor": "#595959", "labelFontSize": 10, "labelPadding": 5, "labelFont": "Lato"
      }
    },
    "color": {
      "scale": {
        "domain": ["Locations", "June 1-5, 2026", "Nov 11-15, 2019", "20 per. Mov. Avg. (June 1-5, 2026)", "20 per. Mov. Avg. (Nov 11-15, 2019)"],
        "range": ["#A5A5A5", "#1F6EBD", "#ED7D31", "#1F2D5C", "#FFFF00"]
      },
      "legend": {
        "orient": "none", "legendX": 134, "legendY": 504, "direction": "horizontal", "title": null,
        "symbolType": "stroke", "symbolSize": 225, "symbolStrokeWidth": 2,
        "labelFontSize": 10, "labelColor": "#595959", "labelFont": "Lato", "labelOffset": 18, "labelLimit": 400, "columnPadding": 12,
        "encode": {"symbols": {"update": {
          "strokeDash": {"signal": "indexof(datum.value, 'Mov') >= 0 ? [4,2] : [1,0]"},
          "strokeWidth": {"signal": "datum.value === 'Locations' ? 7 : 2"}
        }}}
      }
    }
  },
  "layer": [
    {
      "data": {"name": "loc"},
      "mark": {"type": "rule", "strokeWidth": 1},
      "encoding": {"y2": {"datum": 0}, "color": {"datum": "Locations"}}
    },
    {
      "data": {"name": "jun"},
      "mark": {"type": "line", "strokeWidth": 2},
      "encoding": {"color": {"datum": "June 1-5, 2026"}}
    },
    {
      "data": {"name": "nov"},
      "mark": {"type": "line", "strokeWidth": 2},
      "encoding": {"color": {"datum": "Nov 11-15, 2019"}}
    },
    {
      "data": {"name": "mavJun"},
      "mark": {"type": "line", "strokeWidth": 2, "strokeDash": [4, 2]},
      "encoding": {"color": {"datum": "20 per. Mov. Avg. (June 1-5, 2026)"}}
    },
    {
      "data": {"name": "mavNov"},
      "mark": {"type": "line", "strokeWidth": 2, "strokeDash": [4, 2]},
      "encoding": {"color": {"datum": "20 per. Mov. Avg. (Nov 11-15, 2019)"}}
    }
  ]
}
